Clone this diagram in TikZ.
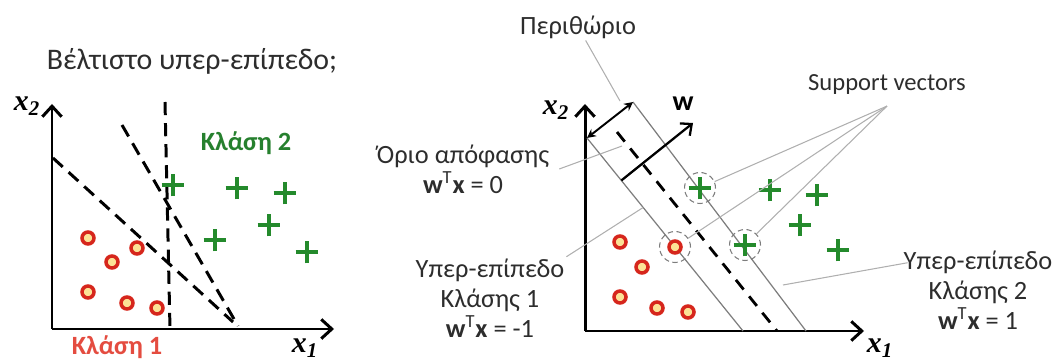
\documentclass[tikz,border=0pt]{standalone}
\usepackage{fontspec}
\setmainfont{Carlito}
\newfontfamily\axisfont{Liberation Serif}
\usetikzlibrary{positioning, arrows.meta, shapes.misc, calc}
\definecolor{ptred}{RGB}{214,38,28}
\definecolor{ptcore}{RGB}{252,226,150}
\definecolor{ptgreen}{RGB}{36,138,44}
\definecolor{labred}{RGB}{228,76,64}
\definecolor{labgreen}{RGB}{38,128,46}
\definecolor{textdark}{RGB}{45,45,45}
\definecolor{leadgray}{RGB}{175,175,175}
\definecolor{edgegray}{RGB}{125,125,125}
\tikzset{
  axisline/.style={-{Straight Barb[length=6pt,width=11pt]}, line width=1.7pt, black},
  guess/.style={line width=1.7pt, dash pattern=on 7.5pt off 4.5pt},
  boundary/.style={line width=1.6pt, dash pattern=on 7pt off 5pt},
  marginline/.style={line width=0.7pt, edgegray},
  lead/.style={line width=0.6pt, leadgray},
  redpt/.style={
    circle, draw=ptred, fill=ptcore, line width=2pt,
    minimum size=0.24cm, inner sep=0pt
  },
  greenpt/.style={
    cross out, draw=ptgreen, line width=1.8pt,
    minimum size=0.26cm, inner sep=0pt, rotate=45
  },
  svring/.style={circle, draw=edgegray, densely dashed, line width=0.6pt, minimum size=0.62cm},
  axislab/.style={font=\axisfont\bfseries\itshape\fontsize{17}{17}\selectfont, inner sep=0pt},
  annot/.style={font=\fontsize{15}{17}\selectfont, text=textdark, align=center, inner sep=1pt},
  classlab/.style={font=\bfseries\fontsize{15}{16}\selectfont, inner sep=0pt}
}
\newcommand{\wx}[1]{\textbf{w}\textsuperscript{T}\textbf{x} = #1}

\begin{document}
\begin{tikzpicture}[x=0.02cm, y=-0.02cm]
  \useasboundingbox (0,0) rectangle (1054,361);

  % left: which hyperplane?
  \node[annot, font=\fontsize{17}{19}\selectfont] (title) at (192,61) {Βέλτιστο υπερ-επίπεδο;};
  \coordinate (o1) at (52,329);
  \coordinate (y1top) at (52,104);
  \coordinate (x1end) at (334,329);
  \draw[axisline] (o1) -- (y1top);
  \draw[axisline] (o1) -- (x1end);
  \node[axislab] (x2l) at (27,106) {x\textsubscript{2}};
  \node[axislab] (x1l) at (305,348) {x\textsubscript{1}};
  \node[classlab, text=labgreen] (c2) at (246,143) {Κλάση 2};
  \node[classlab, text=labred] (c1) at (117,347) {Κλάση 1};

  \coordinate (va) at (165,102); \coordinate (vb) at (170,329);
  \coordinate (da) at (122,125); \coordinate (db) at (238,326);
  \coordinate (ea) at (53,158);  \coordinate (eb) at (233,322);
  \draw[guess] (va) -- (vb);
  \draw[guess] (da) -- (db);
  \draw[guess] (ea) -- (eb);

  \foreach \px/\py [count=\i] in {88/238, 112/262, 137/248, 88/292, 127/303, 157/308}
    \node[redpt] (ra\i) at (\px,\py) {};
  \foreach \px/\py [count=\i] in {173/185, 237/188, 285/193, 269/225, 215/240, 307/252}
    \node[greenpt] (ga\i) at (\px,\py) {};

  % right: maximum margin
  \coordinate (o2) at (585,331);
  \coordinate (y2top) at (585,104);
  \coordinate (x2end) at (864,331);
  \draw[axisline] (o2) -- (y2top);
  \draw[axisline] (o2) -- (x2end);
  \node[axislab] (x2r) at (556,110) {x\textsubscript{2}};
  \node[axislab] (x1r) at (880,348) {x\textsubscript{1}};

  \coordinate (la) at (587,138); \coordinate (lb) at (743,331);
  \coordinate (ca) at (617,132); \coordinate (cb) at (777,331);
  \coordinate (ra) at (633,102); \coordinate (rb) at (806,331);
  \draw[marginline] (la) -- (lb);
  \draw[marginline] (ra) -- (rb);
  \draw[boundary] (ca) -- (cb);
  \draw[{Stealth[length=5pt,width=5pt]}-{Stealth[length=5pt,width=5pt]}, line width=1.1pt] (la) -- (ra);
  \coordinate (wfoot) at ($(la)!0.22!(lb)$);
  \coordinate (whead) at (693,123);
  \draw[-{Straight Barb[length=5pt,width=9pt]}, line width=1.3pt] (wfoot) -- (whead);
  \node[font=\bfseries\fontsize{16}{16}\selectfont, inner sep=0pt] (wl) at (683,104) {w};

  \foreach \px/\py [count=\i] in {620/242, 642/267, 620/297, 657/308, 688/312, 675/247}
    \node[redpt] (rb\i) at (\px,\py) {};
  \foreach \px/\py [count=\i] in {770/190, 817/195, 800/225, 838/250, 700/188, 745/245}
    \node[greenpt] (gb\i) at (\px,\py) {};
  \node[svring] (sv1) at (gb5) {};
  \node[svring] (sv2) at (rb6) {};
  \node[svring] (sv3) at (gb6) {};

  \node[annot] (mglab) at (578,27) {Περιθώριο};
  \node[annot] (dblab) at (463,169) {Όριο απόφασης\\\wx{0}};
  \node[annot] (h1lab) at (490,298) {Υπερ-επίπεδο\\Κλάσης 1\\\wx{-1}};
  \node[annot] (h2lab) at (978,290) {Υπερ-επίπεδο\\Κλάσης 2\\\wx{1}};
  \node[annot, font=\fontsize{14}{16}\selectfont] (svlab) at (887,85) {Support vectors};

  \coordinate (mgtip) at (620,101);
  \coordinate (dbpt) at (622,146);
  \coordinate (h1pt) at ($(la)!0.36!(lb)$);
  \coordinate (h2pt) at (783,285);
  \coordinate (svtip) at ($(svlab.south)+(0,9)$);
  \coordinate (h2from) at ($(h2lab.north west)+(6,14)$);
  \draw[lead] (mglab) -- (mgtip);
  \draw[lead] ($(dblab.east)+(8,0)$) -- (dbpt);
  \draw[lead] (h1lab.north east) -- (h1pt);
  \draw[lead] (h2from) -- (h2pt);
  \draw[lead] (svtip) -- (sv1);
  \draw[lead] (svtip) -- (sv2);
  \draw[lead] (svtip) -- (sv3);
\end{tikzpicture}
\end{document}
